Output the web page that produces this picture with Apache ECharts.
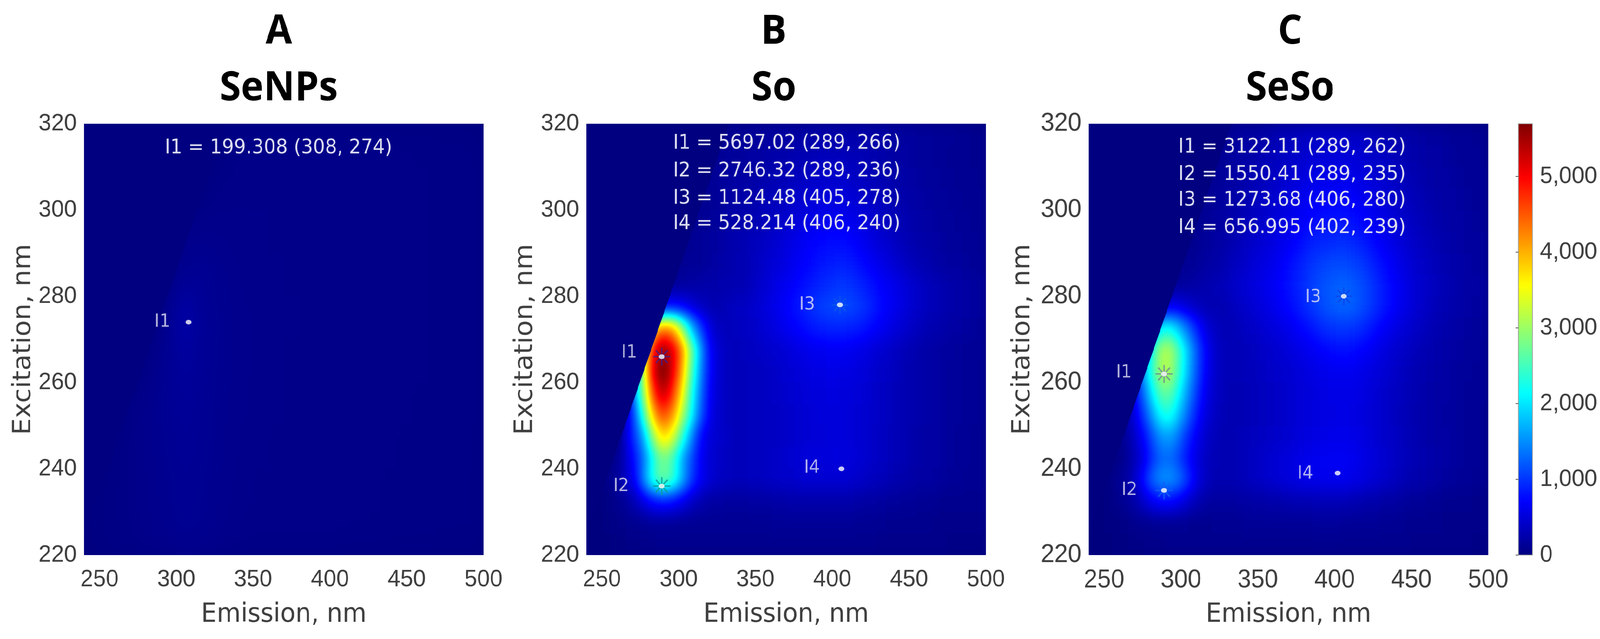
<!DOCTYPE html>
<html><head><meta charset="utf-8">
<script src="https://cdn.jsdelivr.net/npm/echarts@6/dist/echarts.min.js"></script>
<style>
html,body{margin:0;padding:0;background:#fff;width:100%;height:100%;overflow:hidden}
#page{position:absolute;left:0;top:0;width:4338px;height:1637px;transform-origin:0 0}
.clip{position:absolute;overflow:hidden}
#over{position:absolute;left:0;top:0;width:4338px;height:1637px}
</style></head><body>
<svg width="0" height="0" style="position:absolute">
<filter id="heatFine" x="-5%" y="-5%" width="110%" height="110%" color-interpolation-filters="sRGB">
 <feGaussianBlur stdDeviation="10 22"/>
 <feComponentTransfer>
  <feFuncR type="table" tableValues="0 0 0 0 .5 1 1 1 .5"/>
  <feFuncG type="table" tableValues="0 0 .5 1 1 1 .5 0 0"/>
  <feFuncB type="table" tableValues=".5 1 1 1 .5 0 0 0 0"/>
 </feComponentTransfer>
</filter>
<filter id="heatLow" x="-5%" y="-5%" width="110%" height="110%" color-interpolation-filters="sRGB">
 <feGaussianBlur stdDeviation="22 46"/>
 <feComponentTransfer>
  <feFuncR type="table" tableValues="0 0"/>
  <feFuncG type="table" tableValues="0 0"/>
  <feFuncB type="table" tableValues=".5 1"/>
 </feComponentTransfer>
</filter>
</svg>
<div id="page"><div id="over"></div></div>
<script>
const emissionFine=[242.5,247.5,252.5,257.5,262.5,267.5,272.5,277.5,282.5,287.5,292.5,297.5,302.5,307.5,312.5,317.5,322.5,327.5,332.5,337.5,342.5,347.5,352.5,357.5,362.5,367.5,372.5,377.5,382.5,387.5,392.5,397.5,402.5,407.5,412.5,417.5,422.5,427.5,432.5,437.5,442.5,447.5,452.5,457.5,462.5,467.5,472.5,477.5,482.5,487.5,492.5,497.5];
const excitationFine=[317.5,312.5,307.5,302.5,297.5,292.5,287.5,282.5,277.5,272.5,267.5,262.5,257.5,252.5,247.5,242.5,237.5,232.5,227.5,222.5];
const emissionCoarse=[245,255,265,275,285,295,305,315,325,335,345,355,365,375,385,395,405,415,425,435,445,455,465,475,485,495];
const excitationCoarse=[315,305,295,285,275,265,255,245,235,225];

const seNPsValues=[
[0,0,0,0,0,0,0,0,0,40,45,50,50,50,55,55,55,55,50,50,50,45,45,40,40,35],
[0,0,0,0,0,0,0,0,45,50,55,55,55,55,55,55,55,55,55,50,50,50,45,45,40,40],
[0,0,0,0,0,0,60,70,70,65,60,60,55,55,55,55,55,55,55,55,50,50,45,45,40,40],
[0,0,0,0,0,40,100,115,95,75,65,60,60,55,55,55,55,55,55,50,50,50,45,45,40,40],
[0,0,0,0,10,90,260,140,100,80,70,65,60,60,55,55,55,55,55,50,50,50,45,45,40,40],
[0,0,0,0,60,115,165,130,100,80,70,65,60,55,55,55,55,55,55,50,50,50,45,45,40,40],
[0,0,20,60,85,115,140,120,95,75,70,65,60,55,55,55,55,55,50,50,50,45,45,40,40,40],
[0,10,40,60,80,100,125,110,90,75,65,60,55,55,55,55,55,50,50,50,45,45,45,40,40,35],
[10,25,40,60,75,90,115,100,85,70,60,55,55,50,50,50,50,50,50,45,45,45,40,40,35,35],
[15,30,40,55,70,85,105,95,80,65,55,50,50,50,50,50,50,45,45,45,40,40,40,35,35,35]];

const soValues=[
[0,0,0,0,0,0,0,0,0,0, 0,0,0,0,0,0,110,115,120,130, 140,150,160,170,180,190,200,210,220,230, 240,250,255,255,250,245,235,225,215,205, 195,185,175,165,155,145,135,125,115,105, 100,95],
[0,0,0,0,0,0,0,0,0,0, 0,0,0,0,0,0,120,135,150,165, 180,190,205,220,235,250,265,285,300,315, 325,330,335,330,320,305,285,265,245,225, 210,195,180,165,150,140,130,120,110,105, 100,95],
[0,0,0,0,0,0,0,0,0,0, 0,0,0,0,0,120,130,150,170,190, 210,230,245,265,285,310,335,360,385,405, 415,420,420,415,400,375,345,315,285,260, 235,215,195,180,165,150,140,130,120,110, 105,100],
[0,0,0,0,0,0,0,0,0,0, 0,0,0,0,110,120,140,165,190,215, 235,255,280,305,335,365,400,435,470,500, 515,520,520,510,485,450,410,370,330,295, 265,240,215,195,180,165,150,140,130,120, 110,105],
[0,0,0,0,0,0,0,0,0,0, 0,0,0,100,115,130,155,185,215,240, 265,290,320,350,385,425,470,515,565,600, 630,645,650,640,610,570,520,465,410,360, 315,280,245,220,195,180,165,150,140,130, 120,110],
[0,0,0,0,0,0,0,0,0,0, 0,0,95,105,125,150,180,210,245,270, 300,330,365,400,445,495,550,610,670,720, 745,760,770,760,730,680,610,540,475,415, 360,315,275,245,220,195,175,160,150,140, 125,115],
[0,0,0,0,0,0,0,0,0,0, 0,100,110,125,145,165,190,220,250,280, 300,340,390,440,490,540,600,660,720,770, 820,855,880,880,850,790,720,650,580,520, 450,385,335,295,260,230,205,185,170,155, 140,125],
[0,0,0,0,0,0,0,0,0,0, 130,150,175,195,220,240,250,260,270,285, 300,360,420,480,560,620,680,740,800,860, 920,970,1005,1010,975,920,850,780,700,640, 570,510,450,395,345,305,270,240,215,195, 175,160],
[0,0,0,0,0,0,0,0,300,600, 800,780,700,560,430,340,300,300,330,370, 390,430,480,540,610,680,750,830,910,990, 1060,1100,1120,1120,1090,1030,950,860,770,680, 600,520,450,395,345,305,270,240,215,195, 175,160],
[0,0,0,0,0,0,0,0,3500,4200, 4300,3900,3000,2000,1300,800,450,350,340,350, 380,410,450,490,540,600,660,720,780,830, 870,890,900,900,880,840,780,710,640,570, 500,440,385,340,300,265,235,210,190,175, 160,145],
[0,0,0,0,0,0,0,3500,4600,5500, 5500,5000,4200,3000,2000,1100,600,420,350,340, 360,375,395,420,450,480,520,560,590,615, 630,640,645,640,620,590,550,500,450,405, 360,320,285,255,230,205,185,170,155,145, 135,125],
[0,0,0,0,0,0,1800,3300,4900,5650, 5600,4900,4000,2800,1850,1050,600,420,350,330, 340,350,365,385,410,440,470,500,530,550, 565,570,570,565,550,525,490,450,410,370, 330,295,265,240,215,195,175,160,150,140, 130,120],
[0,0,0,0,0,600,1800,3000,4400,5200, 5200,4500,3600,2500,1650,950,560,430,360,335, 340,350,360,375,395,420,445,470,495,515, 525,530,530,525,510,490,460,425,390,355, 320,290,260,235,215,195,175,160,150,140, 130,120],
[0,0,0,0,200,650,1400,2500,3700,4500, 4500,4000,3100,2300,1500,900,520,430,365,335, 340,350,360,370,385,405,425,450,470,490, 505,510,510,505,490,470,445,415,380,350, 320,290,260,235,215,195,175,160,150,140, 125,115],
[0,0,0,0,150,700,1150,1750,2800,3600, 3700,3200,2400,1650,950,600,470,420,370,340, 340,350,360,370,385,400,420,440,465,485, 500,510,510,505,490,465,440,410,375,345, 315,285,255,230,210,190,170,155,140,130, 120,110],
[0,0,0,60,200,560,900,1400,2100,2700, 2750,2350,1700,1200,800,550,450,400,365,345, 345,355,365,380,400,425,450,480,505,520, 525,525,528,525,505,475,445,410,375,345, 315,285,255,230,210,190,170,155,140,130, 120,110],
[0,0,40,120,250,500,800,1500,2200,2650, 2650,2300,1700,1150,780,560,440,390,360,345, 345,350,360,375,395,415,435,455,470,480, 480,480,475,465,445,420,390,360,330,300, 275,250,225,205,190,170,155,140,130,120, 110,105],
[0,0,30,60,120,200,350,550,750,850, 850,750,600,450,320,250,210,190,180,180, 185,190,200,210,220,230,240,245,250,250, 250,250,250,245,235,220,205,190,175,160, 150,140,130,120,110,105,100,95,90,90, 85,85],
[0,0,20,40,60,80,100,115,125,130, 130,125,120,115,110,110,110,110,110,110, 115,115,120,120,125,125,130,130,130,130, 130,130,130,130,125,120,115,110,105,100, 95,90,85,80,80,75,75,70,70,70, 65,65],
[0,0,10,20,30,40,50,60,70,80, 85,85,85,85,80,80,80,80,80,80, 80,80,80,85,85,85,85,90,90,90, 90,90,90,90,85,85,80,80,75,75, 70,70,65,65,60,60,60,55,55,55, 50,50]];

const seSoValues=[
[0,0,0,0,0,0,0,0,0,0, 0,0,0,0,0,0,110,120,140,170, 190,210,230,255,280,305,330,350,370,385, 395,400,400,395,385,370,350,325,300,280, 255,235,215,200,185,170,155,145,135,125, 115,110],
[0,0,0,0,0,0,0,0,0,0, 0,0,0,0,0,0,120,140,170,200, 230,255,285,315,350,380,410,435,460,480, 495,500,505,500,490,465,435,400,370,340, 305,275,250,225,205,190,175,160,145,135, 125,115],
[0,0,0,0,0,0,0,0,0,0, 0,0,0,0,0,110,130,155,190,225, 260,290,325,365,405,445,480,515,550,575, 595,605,610,605,590,560,520,480,440,400, 360,320,285,255,230,210,190,175,160,145, 135,125],
[0,0,0,0,0,0,0,0,0,0, 0,0,0,0,100,120,150,175,215,255, 295,330,370,415,460,505,550,595,640,670, 695,710,715,710,690,650,600,550,500,455, 405,360,320,285,255,230,210,190,175,160, 145,135],
[0,0,0,0,0,0,0,0,0,0, 0,0,0,90,110,135,170,200,240,285, 330,370,415,465,515,565,620,675,725,765, 795,815,820,815,790,745,690,630,570,515, 455,405,360,320,285,255,230,210,190,170, 155,145],
[0,0,0,0,0,0,0,0,0,0, 0,0,80,100,125,155,190,225,270,320, 370,415,465,515,570,630,700,770,840,890, 925,945,955,950,920,870,800,725,650,585, 515,455,400,355,315,280,250,225,205,185, 170,155],
[0,0,0,0,0,0,0,0,0,0, 0,90,105,130,160,195,230,275,330,385, 435,485,540,590,650,720,800,880,960,1030, 1080,1110,1125,1120,1080,1020,935,845,755,675, 590,515,450,395,350,310,275,245,220,200, 180,165],
[0,0,0,0,0,0,0,0,0,0, 120,150,180,205,235,270,305,345,390,440, 490,540,590,640,695,760,840,925,1010,1090, 1160,1210,1240,1240,1200,1130,1040,935,830,735, 640,555,480,420,370,325,290,260,230,210, 190,175],
[0,0,0,0,0,0,0,0,200,500, 650,620,520,420,340,300,290,300,335,380, 430,480,530,580,640,710,790,880,970,1060, 1150,1215,1260,1265,1230,1150,1050,940,830,730, 635,550,475,415,365,320,285,255,230,205, 185,170],
[0,0,0,0,0,0,0,0,1600,2150, 2200,1900,1500,1100,750,500,380,320,310,330, 370,410,450,490,530,580,640,710,780,860, 930,985,1010,1010,985,930,850,760,680,600, 525,460,400,350,310,275,245,220,200,180, 165,150],
[0,0,0,0,0,0,0,1700,2500,3050, 3100,2650,2050,1500,1000,650,430,340,310,310, 335,365,395,425,455,490,530,580,630,680, 725,760,775,775,755,715,660,600,540,480, 425,375,330,295,265,240,215,195,180,165, 150,140],
[0,0,0,0,0,0,1100,1900,2600,3100, 3100,2600,2000,1450,950,620,420,335,305,305, 325,345,370,395,420,450,480,515,545,575, 600,620,630,630,615,590,550,505,460,415, 370,330,295,265,240,215,195,180,165,150, 140,130],
[0,0,0,0,0,500,950,1550,2200,2650, 2650,2250,1750,1250,850,560,400,330,300,300, 320,340,360,385,410,435,460,490,520,545, 565,580,590,590,575,550,515,475,430,390, 350,315,280,255,230,210,190,175,160,145, 135,125],
[0,0,0,0,150,400,750,1200,1750,2200, 2250,1900,1450,1050,720,490,370,320,300,300, 320,340,360,385,410,435,460,485,510,530, 550,560,570,570,555,530,495,460,420,380, 340,305,275,250,225,205,185,170,155,140, 130,120],
[0,0,0,0,110,300,550,850,1250,1550, 1600,1400,1050,780,560,410,330,300,295,305, 325,350,375,400,425,450,480,510,535,560, 580,595,600,600,585,555,520,480,435,395, 355,315,285,255,230,210,190,170,155,140, 130,120],
[0,0,0,50,100,230,420,700,1050,1280, 1300,1150,880,650,470,360,310,295,300,320, 345,375,405,440,475,510,545,580,610,630, 645,655,657,650,625,590,545,500,455,410, 365,325,290,260,235,215,195,175,160,145, 130,120],
[0,0,30,80,150,280,550,950,1350,1530, 1540,1400,1120,780,500,350,290,280,295,320, 345,375,405,440,475,510,540,570,595,610, 620,625,625,615,590,555,510,465,420,380, 340,300,265,240,215,195,175,160,145,130, 120,110],
[0,0,30,60,110,190,320,520,680,750, 750,680,520,380,270,210,180,175,185,195, 205,215,230,240,255,270,280,290,300,305, 310,310,310,305,295,275,255,235,210,190, 170,155,140,125,115,105,95,90,85,80, 75,70],
[0,0,20,30,45,60,80,95,105,110, 115,110,105,100,100,100,105,110,115,120, 125,130,135,135,140,140,145,145,145,150, 150,150,150,145,140,135,130,125,115,110, 105,100,95,90,85,80,75,75,70,70, 65,65],
[0,0,10,20,30,40,50,60,70,75, 80,80,80,80,80,85,85,85,85,90, 90,90,95,95,95,95,100,100,100,100, 100,100,100,100,95,95,90,90,85,85, 80,80,75,75,70,70,65,65,60,60, 55,55]];

const jetColors=['#000080','#0000ff','#0080ff','#00ffff','#80ff80','#ffff00','#ff8000','#ff0000','#800000'];
const colorMax=5697;
const lowRangeMax=712;
const rayleighEdge=[[240,225],[265,250],[333,320],[240,320]];
const xTicks=[250,300,350,400,450,500];
const yTicks=[220,240,260,280,300,320];
const barTicks=[0,1000,2000,3000,4000,5000];
const panelTitles=['A','B','C'];
const panelNames=['SeNPs','So','SeSo'];
const xName='Emission, nm', yName='Excitation, nm';

const seNPsPeaks=[['I1',308,274]];
const soPeaks=[['I1',289,266],['I2',289,236],['I3',405,278],['I4',406,240]];
const seSoPeaks=[['I1',289,262],['I2',289,235],['I3',406,280],['I4',402,239]];
const seNPsReadout=['I1 = 199.308 (308, 274)'];
const soReadout=['I1 = 5697.02 (289, 266)','I2 = 2746.32 (289, 236)','I3 = 1124.48 (405, 278)','I4 = 528.214 (406, 240)'];
const seSoReadout=['I1 = 3122.11 (289, 262)','I2 = 1550.41 (289, 235)','I3 = 1273.68 (406, 280)','I4 = 656.995 (402, 239)'];

/* layout */
const PW=1083,PH=1105,PT=317,PAD=120;
const squeeze=Math.min(1,window.innerWidth/4338);
document.getElementById('page').style.transform='scale('+squeeze+',1)';
const panels=[
 {left:228, xs:emissionCoarse,ys:excitationCoarse,rows:seNPsValues,filter:'heatLow',grayMax:lowRangeMax,peaks:seNPsPeaks,readout:seNPsReadout,
  readY:[380],readX:755,tickFont:62,yGap:130,titleX:751,
  labelOffsets:[[-71,0]],spokes:[null]},
 {left:1590,xs:emissionFine,ys:excitationFine,rows:soValues,filter:'heatFine',grayMax:colorMax,peaks:soPeaks,readout:soReadout,
  readY:[368,439,509,574],readX:2133,tickFont:62,yGap:132,titleX:2093,
  labelOffsets:[[-88,-10],[-110,1],[-89,0],[-80,-2]],spokes:['#40208c','#0e9a94','#0a55e8',null]},
 {left:2952,xs:emissionFine,ys:excitationFine,rows:seSoValues,filter:'heatFine',grayMax:colorMax,peaks:seSoPeaks,readout:seSoReadout,
  readY:[378,448,514,584],readX:3503,tickFont:66,yGap:145,titleX:3493,
  labelOffsets:[[-109,-3],[-94,0],[-83,3],[-88,2]],spokes:['#6f8a98','#1060f0','#1040e8',null]}
];
const spokeSymbol='path://M46 0H54V100H46ZM0 46H100V54H0ZM12 18L18 12L88 82L82 88ZM82 12L88 18L18 88L12 82Z';

/* heat layers: the library draws each cell as a gray level, the page filter smooths them and applies the jet map */
panels.forEach(function(p){
  var clip=document.createElement('div');clip.className='clip';
  clip.style.cssText='left:'+p.left+'px;top:'+PT+'px;width:'+PW+'px;height:'+PH+'px';
  var inner=document.createElement('div');
  inner.style.cssText='position:absolute;left:'+(-PAD)+'px;top:'+(-PAD)+'px;width:'+(PW+2*PAD)+'px;height:'+(PH+2*PAD)+'px;filter:url(#'+p.filter+')';
  clip.appendChild(inner);
  document.getElementById('page').insertBefore(clip,document.getElementById('over'));
  var data=[];
  p.rows.forEach(function(r,i){r.forEach(function(v,j){data.push([j,p.ys.length-1-i,v]);});});
  var c=echarts.init(inner,null,{width:PW+2*PAD,height:PH+2*PAD});
  c.setOption({animation:false,backgroundColor:'#000000',
    grid:{left:PAD,top:PAD,width:PW,height:PH},
    xAxis:{type:'category',data:p.xs,show:false},
    yAxis:{type:'category',data:p.ys.slice().reverse(),show:false},
    visualMap:{show:false,min:0,max:p.grayMax,dimension:2,inRange:{color:['#000000','#ffffff']}},
    series:[{type:'heatmap',data:data,progressive:0,itemStyle:{borderWidth:0}}]});
});

/* overlay */
var grids=[],xAxes=[],yAxes=[],series=[],titles=[],texts=[];
panels.forEach(function(p,k){
  grids.push({left:p.left,top:PT,width:PW,height:PH});
  var font='"Liberation Sans"';
  xAxes.push({type:'value',gridIndex:k,min:240,max:500,name:xName,nameLocation:'middle',nameGap:120,
    nameTextStyle:{fontFamily:'"DejaVu Sans"',fontSize:67,color:'#404040'},
    axisLine:{show:false},axisTick:{show:false},splitLine:{show:false},
    axisLabel:{customValues:xTicks,fontFamily:font,fontSize:p.tickFont,color:'#404040',margin:32}});
  yAxes.push({type:'value',gridIndex:k,min:220,max:320,interval:20,name:yName,nameLocation:'middle',nameGap:p.yGap,
    nameTextStyle:{fontFamily:'"DejaVu Sans"',fontSize:68,color:'#404040'},
    axisLine:{show:false},axisTick:{show:false},splitLine:{show:false},
    axisLabel:{fontFamily:font,fontSize:p.tickFont,color:'#404040',margin:20}});
  series.push({type:'custom',xAxisIndex:k,yAxisIndex:k,z:2,silent:true,clip:true,
    data:rayleighEdge,encode:{x:0,y:1},
    renderItem:function(params,api){
      if(params.dataIndex!==0)return null;
      return {type:'polygon',shape:{points:rayleighEdge.map(function(q){return api.coord(q);})},style:{fill:'#000080'}};
    }});
  series.push({type:'scatter',xAxisIndex:k,yAxisIndex:k,z:3,silent:true,symbol:spokeSymbol,symbolSize:46,
    data:p.peaks.map(function(q,i){return p.spokes[i]?{value:[q[1],q[2]],itemStyle:{color:p.spokes[i]}}:null;}).filter(Boolean)});
  series.push({type:'scatter',xAxisIndex:k,yAxisIndex:k,z:4,silent:true,symbol:'circle',symbolSize:[16,12],
    itemStyle:{color:'#ffffff'},
    data:p.peaks.map(function(q,i){return {name:q[0],value:[q[1],q[2]],
      label:{show:true,position:'inside',offset:p.labelOffsets[i],formatter:'{b}',fontFamily:'"DejaVu Sans"',fontSize:46,color:'#dfdff2',textBorderWidth:0}};})});
  titles.push({text:panelTitles[k],left:p.titleX,top:25,textAlign:'center',textStyle:{fontFamily:'"Open Sans"',fontWeight:700,fontSize:104,color:'#000'}});
  titles.push({text:panelNames[k],left:p.titleX,top:170,textAlign:'center',textStyle:{fontFamily:'"Open Sans"',fontWeight:700,fontSize:104,color:'#000'}});
  p.readout.forEach(function(t,i){
    texts.push({type:'text',z:100,x:p.readX,y:p.readY[i],style:{text:t,align:'center',verticalAlign:'middle',fontFamily:'"DejaVu Sans"',fontSize:51,fill:'#dcdcf0'}});
  });
});
/* colour bar axis */
grids.push({left:4117,top:PT,width:38,height:PH,show:true,borderColor:'#a0a0a0',borderWidth:2,backgroundColor:'transparent',z:6});
xAxes.push({type:'value',gridIndex:3,show:false,min:0,max:1});
yAxes.push({type:'value',gridIndex:3,position:'right',min:0,max:colorMax,z:6,
  axisLine:{show:false},splitLine:{show:false},
  axisTick:{show:true,inside:true,length:8,lineStyle:{color:'#555',width:2},customValues:barTicks},
  axisLabel:{customValues:barTicks,fontFamily:'"Liberation Sans"',fontSize:62,color:'#404040',margin:20}});

var over=echarts.init(document.getElementById('over'),null,{width:4338,height:1637});
over.setOption({animation:false,backgroundColor:'transparent',
  title:titles,grid:grids,xAxis:xAxes,yAxis:yAxes,series:series,
  visualMap:{show:true,seriesIndex:[],min:0,max:colorMax,left:4117,top:PT,itemWidth:38,itemHeight:PH,padding:0,calculable:false,text:null,showLabel:false,inRange:{color:jetColors}},
  graphic:{elements:texts}});
</script>
</body></html>
